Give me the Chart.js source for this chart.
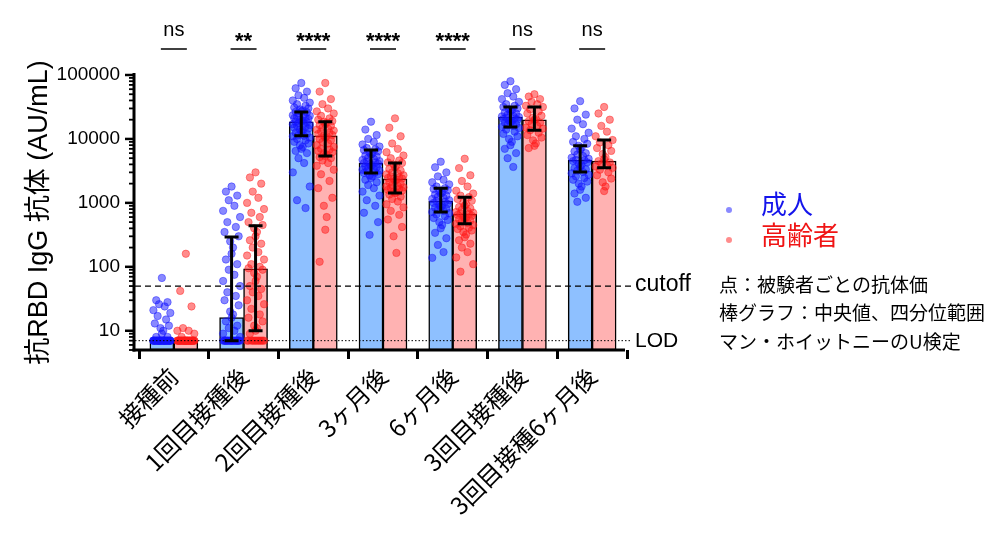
<!DOCTYPE html>
<html>
<head>
<meta charset="utf-8">
<script src="https://cdn.jsdelivr.net/npm/chart.js@4.4.1/dist/chart.umd.min.js"></script>
<style>
  html, body { margin: 0; padding: 0; background: #fff; }
  #wrap { width: 1000px; height: 533px; position: relative; }
</style>
</head>
<body>
<div id="wrap"><canvas id="chart" width="1000" height="533"></canvas></div>
<script>
/* ============== Data ============== */

const categories = ['接種前', '1回目接種後', '2回目接種後', '3ヶ月後', '6ヶ月後', '3回目接種後', '3回目接種6ヶ月後'];
const sigLabels = ['ns', '**', '****', '****', '****', 'ns', 'ns'];

// median and quartiles (AU/mL)
const adultMedian = [7, 16, 18600, 4200, 1070, 22000, 4650];
const adultQ1 = [7, 7, 11200, 2940, 720, 15400, 3040];
const adultQ3 = [7, 293, 26500, 6700, 1700, 31600, 7800];
const elderlyMedian = [7, 93, 11200, 2370, 670, 19900, 4500];
const elderlyQ1 = [7, 10, 5400, 1430, 470, 13700, 3530];
const elderlyQ3 = [7, 440, 18600, 4200, 1230, 31600, 9600];

const cutoff = 50;
const lod = 7;

// individual subjects
const adultPre = [67, 30, 28, 26, 24, 21, 19, 17, 15, 13, 12, 11, 10, 9, 8, 8,
  7, 7, 7, 7, 7, 7, 7, 7, 7, 7, 7, 7, 7, 7, 7, 7, 7, 7, 7, 7, 7, 7, 7, 7, 7, 7, 7, 7, 7, 7];
const elderlyPre = [160, 42, 24, 11, 10, 10, 9, 8,
  7, 7, 7, 7, 7, 7, 7, 7, 7, 7, 7, 7, 7, 7, 7, 7, 7, 7, 7, 7, 7, 7, 7, 7, 7, 7, 7, 7, 7, 7, 7, 7];
const adultDose1 = [1800, 1500, 1300, 1100, 900, 750, 600, 500, 420, 350, 300, 250, 200, 160, 130, 110, 90, 75,
  60, 50, 40, 35, 30, 25, 20, 18, 16, 14, 12, 11, 10, 9, 8,
  7, 7, 7, 7, 7, 7, 7, 7, 7, 7, 7, 7, 7, 7, 7, 7, 7, 7, 7, 7, 7, 7];
const elderlyDose1 = [3000, 2500, 2000, 1500, 1200, 1000, 800, 700, 600, 500, 450, 400, 350, 300, 260, 230, 200,
  170, 150, 130, 110, 100, 95, 90, 80, 70, 60, 50, 45, 40, 35, 30, 26, 22, 18, 16, 14, 12, 11, 10, 9,
  7, 7, 7, 7, 7, 7, 7, 7, 7, 7, 7, 7];
const adultDose2 = [75000, 62000, 55000, 48000, 44000, 40000, 37000, 35000, 33000, 31000, 30000, 29000, 28000,
  27000, 26500, 26000, 25000, 24000, 23500, 23000, 22000, 21500, 21000, 20500, 20000, 19500, 19000, 18600,
  18200, 17800, 17500, 17000, 16500, 16000, 15500, 15000, 14500, 14000, 13500, 13000, 12500, 12000, 11500,
  11200, 11000, 10500, 10000, 9500, 9000, 8500, 8000, 7500, 7000, 6500, 6000, 5000, 4200, 3000, 1800, 1100, 830];
const elderlyDose2 = [75000, 55000, 42000, 35000, 30000, 27000, 25000, 23000, 21000, 20000, 19000, 18600, 18000,
  17000, 16500, 16000, 15000, 14500, 14000, 13500, 13000, 12500, 12000, 11500, 11200, 11000, 10500, 10000,
  9500, 9000, 8500, 8000, 7500, 7000, 6800, 6500, 6200, 6000, 5700, 5400, 5200, 5000, 4600, 4200, 3800, 3300,
  2800, 2200, 1700, 1200, 900, 600, 380, 120];
const adult3m = [18600, 14000, 11500, 10000, 9000, 8200, 7600, 7200, 6900, 6700, 6400, 6100, 5900, 5700, 5500,
  5300, 5100, 4900, 4700, 4500, 4400, 4300, 4200, 4100, 4000, 3900, 3800, 3700, 3600, 3500, 3400, 3300, 3200,
  3100, 3000, 2940, 2800, 2700, 2600, 2450, 2300, 2100, 1900, 1700, 1500, 1300, 1100, 900, 700, 500, 316];
const elderly3m = [21000, 15000, 11000, 8500, 7000, 6200, 5500, 5000, 4600, 4300, 4200, 4000, 3800, 3600, 3400,
  3200, 3000, 2900, 2800, 2700, 2600, 2500, 2450, 2400, 2370, 2300, 2200, 2100, 2000, 1900, 1850, 1800, 1750,
  1700, 1650, 1600, 1550, 1500, 1450, 1430, 1350, 1250, 1150, 1050, 950, 850, 750, 650, 550, 420, 300, 165];
const adult6m = [4400, 3600, 3000, 2600, 2300, 2100, 1950, 1800, 1700, 1650, 1580, 1500, 1450, 1400, 1350, 1300,
  1250, 1200, 1150, 1100, 1070, 1040, 1000, 960, 930, 900, 870, 840, 810, 780, 750, 720, 690, 660, 620, 580,
  540, 500, 450, 400, 340, 280, 220, 170, 138];
const elderly6m = [4900, 3500, 2700, 2200, 1800, 1550, 1400, 1300, 1230, 1150, 1080, 1000, 950, 900, 860, 820,
  780, 750, 720, 700, 680, 670, 650, 630, 610, 590, 570, 550, 530, 510, 490, 470, 450, 430, 410, 390, 370, 350,
  320, 290, 260, 230, 200, 170, 140, 110, 84];
const adultDose3 = [80000, 70000, 60000, 52000, 46000, 42000, 38000, 35000, 33000, 31600, 30000, 29000, 28000,
  27000, 26000, 25000, 24000, 23000, 22500, 22000, 21500, 21000, 20500, 20000, 19500, 19000, 18500, 18000,
  17000, 16500, 16000, 15400, 14800, 14000, 13000, 12000, 11000, 10000, 9000, 8000, 7000, 6000, 5000, 3650];
const elderlyDose3 = [50000, 46000, 42000, 38000, 35000, 33000, 31600, 29000, 27000, 25000, 23000, 21500, 20500,
  19900, 19000, 18000, 17000, 16000, 15000, 14500, 13700, 12500, 11500, 10500, 9500, 8500, 7800, 7200];
const adultDose3_6m = [39000, 30000, 24000, 20000, 17000, 14500, 12500, 11000, 10000, 9000, 8400, 7800, 7300,
  6800, 6400, 6000, 5700, 5400, 5100, 4900, 4700, 4650, 4500, 4300, 4100, 3900, 3700, 3500, 3350, 3200, 3040,
  2900, 2750, 2600, 2450, 2300, 2150, 2000, 1800, 1600, 1400, 1200, 1040];
const elderlyDose3_6m = [31600, 25000, 20000, 16000, 13000, 11000, 9600, 8800, 8000, 7200, 6500, 5800, 5200,
  4800, 4500, 4300, 4100, 3900, 3700, 3530, 3300, 3000, 2700, 2400, 2100, 1800, 1530];

const adultGroups = [adultPre, adultDose1, adultDose2, adult3m, adult6m, adultDose3, adultDose3_6m];
const elderlyGroups = [elderlyPre, elderlyDose1, elderlyDose2, elderly3m, elderly6m, elderlyDose3, elderlyDose3_6m];

/* ============== Styling helpers ============== */

const FONT_LATIN = '"Liberation Sans", "Noto Sans CJK JP", sans-serif';
const FONT_JP = '"Noto Sans CJK JP", "Liberation Sans", sans-serif';
const BLUE_DOT = 'rgba(20, 20, 255, 0.5)';
const RED_DOT = 'rgba(255, 25, 25, 0.5)';
const jitter = [0, -0.6, 0.6, -0.3, 0.3, -0.9, 0.9, -0.45, 0.45, -0.75, 0.75, -0.15, 0.15];
const BAR_SHIFT = 0.172;

/**
 * Places each median bar left (-1) or right (+1) of its category.
 */
function toBars(medians, side) {
    return medians.map((v, i) => ({x: i + side * BAR_SHIFT, y: v}));
}

/**
 * Turns a list of subject values into scatter points over their bar.
 */
function toPoints(groups, side) {
    const pts = [];
    groups.forEach((values, i) => {
        values.forEach((v, j) => {
            pts.push({x: i + side * BAR_SHIFT + jitter[j % jitter.length] * 0.135, y: v});
        });
    });
    return pts;
}

// log ticks 5..100000 with minor ticks at every digit
const yTickValues = [];
[1, 10, 100, 1000, 10000].forEach(d => {
    for (let k = 1; k < 10; k++) {
        if (d * k >= 5) yTickValues.push(d * k);
    }
});
yTickValues.push(100000);

function isDecade(v) {
    const l = Math.log10(v);
    return Math.abs(l - Math.round(l)) < 1e-9;
}

/* ============== Overlay drawing ============== */

const overlay = {
    id: 'overlay',
    afterDatasetsDraw(chart) {
        const {ctx, chartArea, scales: {y}} = chart;
        ctx.save();

        // cutoff and LOD lines
        ctx.strokeStyle = '#000';
        ctx.lineWidth = 1.3;
        ctx.setLineDash([6, 4]);
        ctx.beginPath();
        ctx.moveTo(chartArea.left - 4, y.getPixelForValue(cutoff));
        ctx.lineTo(632, y.getPixelForValue(cutoff));
        ctx.stroke();
        ctx.lineWidth = 1;
        ctx.setLineDash([1.5, 2]);
        ctx.beginPath();
        ctx.moveTo(chartArea.left - 4, y.getPixelForValue(lod));
        ctx.lineTo(632, y.getPixelForValue(lod));
        ctx.stroke();
        ctx.setLineDash([]);

        // error bars (interquartile range)
        const drawIqr = (meta, q1, q3) => {
            meta.data.forEach((bar, i) => {
                if (q1[i] === q3[i]) return;
                const cx = bar.x;
                const top = y.getPixelForValue(q3[i]);
                const bot = y.getPixelForValue(q1[i]);
                ctx.lineWidth = 3;
                ctx.strokeStyle = '#000';
                ctx.beginPath();
                ctx.moveTo(cx, top);
                ctx.lineTo(cx, bot);
                ctx.moveTo(cx - 7, top);
                ctx.lineTo(cx + 7, top);
                ctx.moveTo(cx - 7, bot);
                ctx.lineTo(cx + 7, bot);
                ctx.stroke();
            });
        };
        drawIqr(chart.getDatasetMeta(0), adultQ1, adultQ3);
        drawIqr(chart.getDatasetMeta(1), elderlyQ1, elderlyQ3);
        ctx.restore();
    },
    afterDraw(chart) {
        const {ctx, chartArea, scales: {x, y}} = chart;
        const axisX = 134;
        ctx.save();
        ctx.strokeStyle = '#000';

        // y axis with major / minor ticks
        ctx.lineWidth = 3;
        ctx.beginPath();
        ctx.moveTo(axisX, chartArea.top - 2);
        ctx.lineTo(axisX, chartArea.bottom + 1.5);
        ctx.stroke();
        yTickValues.forEach(v => {
            const py = y.getPixelForValue(v);
            const len = isDecade(v) ? 9 : 5;
            ctx.lineWidth = isDecade(v) ? 2.5 : 1.8;
            ctx.beginPath();
            ctx.moveTo(axisX - len, py);
            ctx.lineTo(axisX, py);
            ctx.stroke();
        });

        // x axis line
        ctx.lineWidth = 3;
        ctx.beginPath();
        ctx.moveTo(axisX - 1.5, chartArea.bottom);
        ctx.lineTo(625, chartArea.bottom);
        ctx.stroke();

        // significance marks
        ctx.fillStyle = '#000';
        ctx.textAlign = 'center';
        ctx.textBaseline = 'alphabetic';
        sigLabels.forEach((s, i) => {
            const cx = x.getPixelForValue(i);
            if (s === 'ns') {
                ctx.font = '20px ' + FONT_LATIN;
                ctx.fillText(s, cx, 36);
            } else {
                ctx.font = 'bold 22px ' + FONT_LATIN;
                ctx.fillText(s, cx, 48);
            }
            ctx.lineWidth = 1.5;
            ctx.beginPath();
            ctx.moveTo(cx - 13, 49);
            ctx.lineTo(cx + 13, 49);
            ctx.stroke();
        });

        // line labels
        ctx.textAlign = 'left';
        ctx.textBaseline = 'middle';
        ctx.font = '23px ' + FONT_LATIN;
        ctx.fillText('cutoff', 635, y.getPixelForValue(cutoff) - 1);
        ctx.font = '21px ' + FONT_LATIN;
        ctx.fillText('LOD', 635, y.getPixelForValue(lod) + 1);

        // legend
        ctx.fillStyle = BLUE_DOT;
        ctx.beginPath();
        ctx.arc(729, 210, 3, 0, Math.PI * 2);
        ctx.fill();
        ctx.fillStyle = RED_DOT;
        ctx.beginPath();
        ctx.arc(729, 240, 3, 0, Math.PI * 2);
        ctx.fill();
        ctx.font = '26px ' + FONT_JP;
        ctx.fillStyle = 'rgb(20, 20, 235)';
        ctx.fillText('成人', 761, 204);
        ctx.fillStyle = 'rgb(240, 20, 20)';
        ctx.fillText('高齢者', 761, 235);

        // notes
        ctx.fillStyle = '#000';
        ctx.font = '19px ' + FONT_JP;
        ctx.fillText('点：被験者ごとの抗体価', 719, 285);
        ctx.fillText('棒グラフ：中央値、四分位範囲', 719, 313);
        ctx.fillText('マン・ホイットニーのU検定', 719, 342);
        ctx.restore();
    }
};

/* ============== Chart ============== */

new Chart(document.getElementById('chart'), {
    type: 'bar',
    data: {
        datasets: [
            {
                label: '成人',
                data: toBars(adultMedian, -1),
                backgroundColor: 'rgb(142, 192, 255)',
                borderColor: '#000',
                borderWidth: 1.5,
                borderSkipped: false,
                grouped: false,
                barThickness: 24,
                order: 3
            },
            {
                label: '高齢者',
                data: toBars(elderlyMedian, 1),
                backgroundColor: 'rgb(255, 178, 178)',
                borderColor: '#000',
                borderWidth: 1.5,
                borderSkipped: false,
                grouped: false,
                barThickness: 24,
                order: 3
            },
            {
                type: 'scatter',
                label: '成人 points',
                data: toPoints(adultGroups, -1),
                backgroundColor: BLUE_DOT,
                borderColor: 'rgba(20, 20, 255, 0.55)',
                borderWidth: 0.8,
                pointRadius: 3.7,
                order: 1
            },
            {
                type: 'scatter',
                label: '高齢者 points',
                data: toPoints(elderlyGroups, 1),
                backgroundColor: RED_DOT,
                borderColor: 'rgba(255, 25, 25, 0.55)',
                borderWidth: 0.8,
                pointRadius: 3.7,
                order: 1
            }
        ]
    },
    options: {
        responsive: false,
        animation: false,
        layout: {padding: {top: 75, right: 373, left: 0, bottom: 0}},
        plugins: {legend: {display: false}, tooltip: {enabled: false}},
        scales: {
            x: {
                type: 'linear',
                min: -0.5,
                max: 6.5,
                offset: false,
                grid: {display: true, drawOnChartArea: false, drawTicks: true, tickLength: 9, tickWidth: 3, tickColor: '#000'},
                border: {display: false},
                afterBuildTicks: scale => { scale.ticks = categories.map((c, i) => ({value: i})); },
                ticks: {
                    autoSkip: false, maxRotation: 45, minRotation: 45, color: '#000', padding: 3,
                    font: {family: FONT_JP, size: 24},
                    callback: v => categories[v] || ''
                },
                afterFit: scale => { scale.height = 183; }
            },
            y: {
                type: 'logarithmic',
                min: 5,
                max: 100000,
                grid: {display: false, drawTicks: false},
                border: {display: false},
                afterBuildTicks: scale => { scale.ticks = yTickValues.map(v => ({value: v})); },
                ticks: {
                    autoSkip: false,
                    color: '#000',
                    padding: 19,
                    font: {family: FONT_LATIN, size: 19},
                    callback: v => (isDecade(v) && v >= 10 ? String(v) : '')
                },
                title: {
                    display: true,
                    text: '抗RBD IgG 抗体 (AU/mL)',
                    color: '#000',
                    font: {family: FONT_LATIN, size: 27},
                    padding: {top: 23, bottom: 0}
                },
                afterFit: scale => { scale.width = 139; }
            }
        }
    },
    plugins: [overlay]
});
</script>
</body>
</html>
